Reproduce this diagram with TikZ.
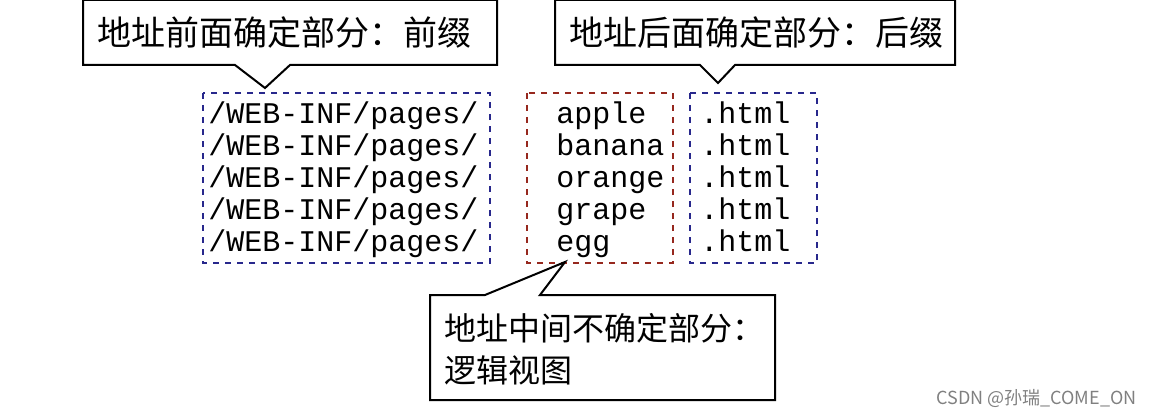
\documentclass[tikz,border=0pt]{standalone}
\usepackage{fontspec}
\setmonofont{Liberation Mono}
\newfontfamily\cjk{Noto Sans CJK SC}
\begin{document}
\begin{tikzpicture}[x=0.5pt,y=-0.5pt,
  callout/.style={draw=black,line width=1pt,fill=white},
  ctext/.style={font=\cjk\fontsize{17}{22}\selectfont,anchor=west,inner sep=0},
  dbox/.style={draw,dashed,line width=0.6pt},
  mono/.style={font=\ttfamily\fontsize{15}{16}\selectfont,anchor=north west,align=left,inner sep=0}]
\useasboundingbox (0,0) rectangle (1150,417);
% dashed boxes
\draw[dbox,draw={rgb,255:red,40;green,40;blue,140}] (203,93) rectangle (490,263);
\draw[dbox,draw={rgb,255:red,150;green,40;blue,30}] (527,93) rectangle (673,263);
\draw[dbox,draw={rgb,255:red,40;green,40;blue,140}] (690,93) rectangle (817,263);
\node[mono] (p) at (208,101) {/WEB-INF/pages/\\/WEB-INF/pages/\\/WEB-INF/pages/\\/WEB-INF/pages/\\/WEB-INF/pages/};
\node[mono] (m) at (556,101) {apple\\banana\\orange\\grape\\egg};
\node[mono] (s) at (700,101) {.html\\.html\\.html\\.html\\.html};
% callouts
\draw[callout] (83,0) -- (497,0) -- (497,65) -- (290,65) -- (265,88) -- (235,65) -- (83,65) -- cycle;
\node[ctext] (c1) at (97,33) {地址前面确定部分：前缀};
\draw[callout] (555,0) -- (955,0) -- (955,65) -- (735,65) -- (718,83) -- (700,65) -- (555,65) -- cycle;
\node[ctext] (c2) at (569,33) {地址后面确定部分：后缀};
\draw[callout] (430,295) -- (485,295) -- (565,262) -- (540,295) -- (775,295) -- (775,400) -- (430,400) -- cycle;
\node[ctext,font=\cjk\fontsize{16}{22}\selectfont] (c3a) at (444,328) {地址中间不确定部分：};
\node[ctext,font=\cjk\fontsize{16}{22}\selectfont] (c3b) at (444,370) {逻辑视图};
\node[font=\cjk\fontsize{9}{10}\selectfont,text=gray,anchor=east,inner sep=0] (w) at (1137,398) {CSDN @孙瑞\_COME\_ON};
\end{tikzpicture}
\end{document}
